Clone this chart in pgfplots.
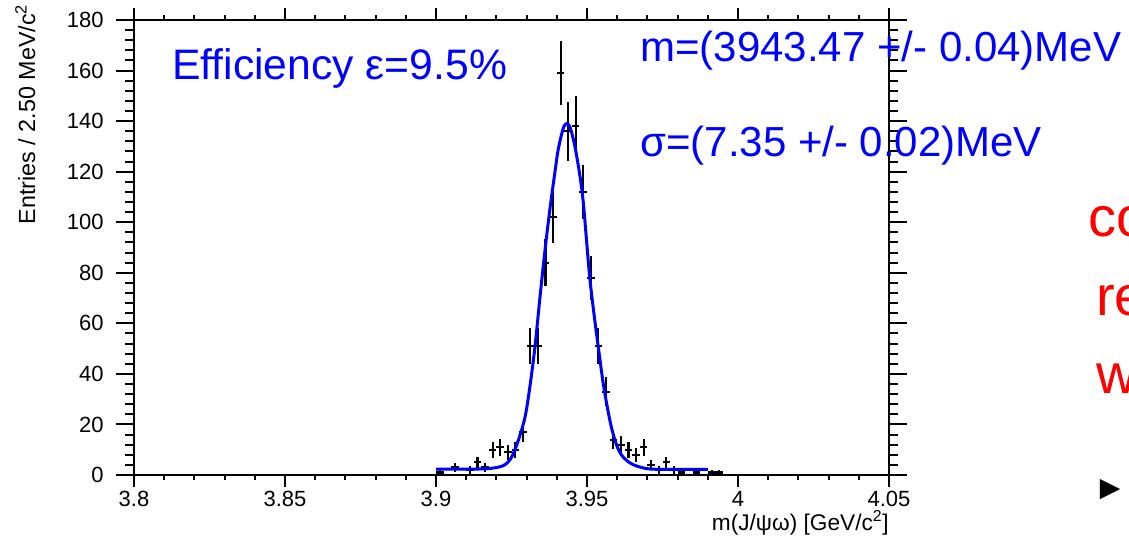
\documentclass[border=0pt]{standalone}
\usepackage{fontspec}
\setmainfont{Liberation Sans}
\newfontfamily\dejavu{DejaVu Sans}
\usepackage{pgfplots}
\usepackage{pgfplotstable}
\pgfplotsset{compat=1.18}

\pgfplotstableread{
x y e
3.90125 1 1.0
3.90625 3 1.73
3.91125 2 1.41
3.91375 5 2.24
3.91625 3 1.73
3.91875 10 3.16
3.92125 11 3.32
3.92375 9 3.0
3.92625 10 3.16
3.92875 17 4.12
3.93125 51 7.14
3.93375 51 7.14
3.93625 84 9.17
3.93875 102 10.10
3.94125 159 12.61
3.94375 136 11.66
3.94625 138 11.75
3.94875 112 10.58
3.95125 78 8.83
3.95375 51 7.14
3.95625 33 5.74
3.95875 14 3.74
3.96125 12 3.46
3.96375 10 3.16
3.96625 8 2.83
3.96875 11 3.32
3.97125 4 2.0
3.97375 2 1.41
3.97625 5 2.24
3.97875 2 1.41
3.98125 1 1.0
3.98625 1 1.0
3.99125 1 1.0
3.99375 1 1.0
}\datatable

\pgfplotstableread{
x y
3.9000 2.3
3.9100 2.3
3.9150 2.4
3.9180 2.6
3.9210 3.2
3.9230 4.2
3.9250 7
3.9272 13.5
3.9295 23
3.9311 35
3.9328 51
3.9344 70
3.9361 89
3.9377 105
3.9394 120
3.9405 129
3.9421 137
3.9432 139
3.9444 137.5
3.9460 130
3.9477 118
3.9488 107.5
3.9499 92
3.9510 77
3.9526 61
3.9537 51
3.9554 36
3.9571 24.5
3.9583 17.8
3.9599 11.5
3.9615 7.8
3.9637 5.2
3.9659 3.8
3.9690 2.7
3.9720 2.3
3.9800 2.2
3.9900 2.2
}\fittable

\begin{document}
\begin{tikzpicture}
\useasboundingbox (0pt,0pt) rectangle (846.75pt,402.75pt);
\clip (0pt,0pt) rectangle (846.75pt,402.75pt);
\begin{axis}[
  at={(100.5pt,46.5pt)}, anchor=south west,
  scale only axis, width=566.25pt, height=341.25pt,
  xmin=3.8, xmax=4.05, ymin=0, ymax=180,
  xtick={3.8,3.85,3.9,3.95,4,4.05},
  xticklabels={3.8,3.85,3.9,3.95,4,4.05},
  ytick={0,20,40,60,80,100,120,140,160,180},
  minor x tick num=4, minor y tick num=4,
  tick align=outside,
  axis line style={line width=1.5pt},
  every tick/.style={line width=1.5pt, black},
  xtick style={/pgfplots/major tick length=9pt, /pgfplots/minor tick length=3.75pt},
  ytick style={/pgfplots/major tick length=13.5pt, /pgfplots/minor tick length=6.75pt},
  /pgf/number format/assume math mode=true,
  tick label style={font=\fontsize{16.5}{19}\selectfont},
  yticklabel style={xshift=-15pt},
  xticklabel style={yshift=-4.5pt},
  xlabel={m(J/ψω) [GeV/c\textsuperscript{2}]},
  ylabel={Entries / 2.50 MeV/c\textsuperscript{2}},
  xlabel style={at={(axis description cs:1,-0.105)}, anchor=east, inner sep=0pt, font=\fontsize{17}{20}\selectfont},
  ylabel style={at={(axis description cs:-0.144,1.035)}, anchor=east, inner sep=0pt, font=\fontsize{17.5}{20}\selectfont},
  clip=false,
]
\addplot[draw=none, mark=none,
  error bars/.cd, y dir=both, y explicit, x dir=both, x fixed=0.00125,
  error mark=none, error bar style={draw=black, line width=1.6pt}]
  table[x=x, y=y, y error=e] {\datatable};
\addplot[blue, line width=2.25pt, smooth] table[x=x, y=y] {\fittable};
\end{axis}
\begin{scope}[x=0.75pt,y=0.75pt]
\node[anchor=base west, inner sep=0pt, text=blue, font=\fontsize{32}{34}\selectfont] at (172,457) {Efficiency ε=9.5\%};
\node[anchor=base west, inner sep=0pt, text=blue, font=\fontsize{31.5}{33}\selectfont] at (640,475) {m=(3943.47 +/- 0.04)MeV};
\node[anchor=base west, inner sep=0pt, text=blue, font=\fontsize{31.5}{33}\selectfont] at (640,381) {σ=(7.35 +/- 0.02)MeV};
\node[anchor=base west, inner sep=0pt, text=red, font=\fontsize{42}{44}\selectfont] at (1088,301) {co};
\node[anchor=base west, inner sep=0pt, text=red, font=\fontsize{42}{44}\selectfont] at (1096,222) {re};
\node[anchor=base west, inner sep=0pt, text=red, font=\fontsize{42}{44}\selectfont] at (1096,144) {w};
\node[inner sep=0pt, font=\dejavu\fontsize{20}{20}\selectfont] at (1110,47) {▶};
\end{scope}
\end{tikzpicture}
\end{document}
